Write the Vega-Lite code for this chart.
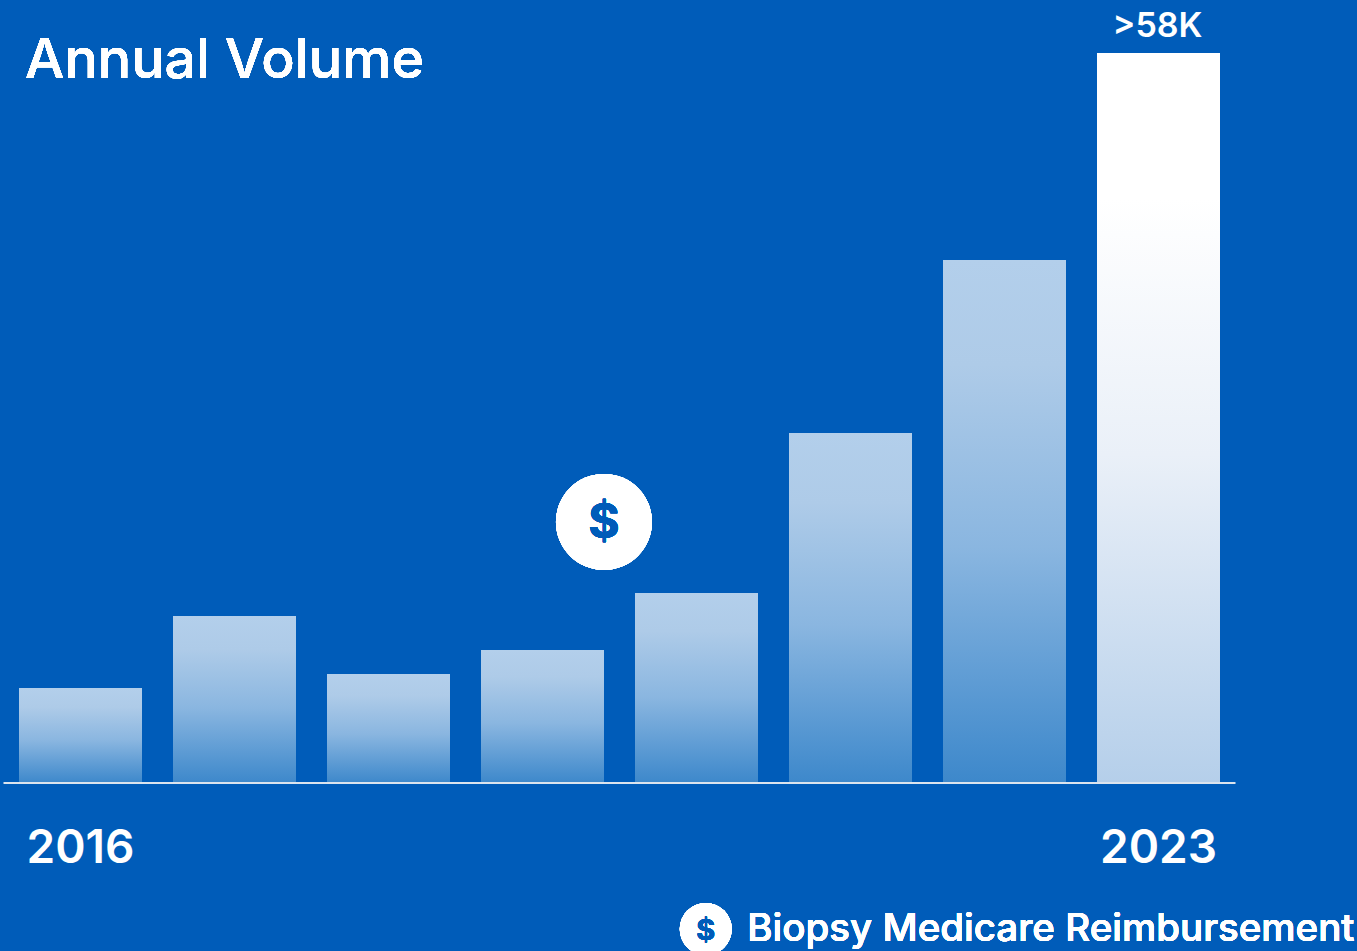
{
  "$schema": "https://vega.github.io/schema/vega-lite/v6.json",
  "width": 1357,
  "height": 951,
  "autosize": {"type": "none"},
  "padding": 0,
  "background": "#005cb9",
  "config": {"view": {"stroke": null}, "text": {"font": "Inter", "color": "white"}},
  "data": {
    "values": [
      {"year": 2016, "volume": 7.55},
      {"year": 2017, "volume": 13.27},
      {"year": 2018, "volume": 8.66},
      {"year": 2019, "volume": 10.57},
      {"year": 2020, "volume": 15.09},
      {"year": 2021, "volume": 27.81},
      {"year": 2022, "volume": 41.55},
      {"year": 2023, "volume": 58, "label": ">58K"}
    ]
  },
  "encoding": {
    "x": {"field": "year", "type": "quantitative", "axis": null,
      "scale": {"domain": [2015.47727, 2024.28896], "nice": false, "zero": false, "padding": 0}},
    "y": {"field": "volume", "type": "quantitative", "axis": null,
      "scale": {"domain": [-13.348, 62.21], "nice": false, "zero": false, "padding": 0}}
  },
  "layer": [
    {
      "transform": [{"filter": "datum.year < 2023"}],
      "mark": {"type": "bar", "size": 123, "clip": false,
        "fill": {"gradient": "linear", "x1": 0, "y1": 0, "x2": 0, "y2": 1,
          "stops": [
            {"offset": 0, "color": "#b3cfeb"},
            {"offset": 0.2, "color": "#aecbe8"},
            {"offset": 0.55, "color": "#8ab6e0"},
            {"offset": 1, "color": "#3d88cb"}
          ]}}
    },
    {
      "transform": [{"filter": "datum.year === 2023"}],
      "mark": {"type": "bar", "size": 123, "clip": false,
        "fill": {"gradient": "linear", "x1": 0, "y1": 0, "x2": 0, "y2": 1,
          "stops": [
            {"offset": 0, "color": "#ffffff"},
            {"offset": 0.2, "color": "#ffffff"},
            {"offset": 0.55, "color": "#eaf0f8"},
            {"offset": 1, "color": "#b5cfea"}
          ]}}
    },
    {
      "data": {"values": [{"from": 2015.5, "to": 2023.5, "base": 0}]},
      "mark": {"type": "rule", "color": "#dbe4ee", "strokeWidth": 2},
      "encoding": {
        "x": {"field": "from", "type": "quantitative", "axis": null,
          "scale": {"domain": [2015.47727, 2024.28896], "nice": false, "zero": false, "padding": 0}},
        "x2": {"field": "to"},
        "y": {"field": "base", "type": "quantitative", "axis": null,
          "scale": {"domain": [-13.348, 62.21], "nice": false, "zero": false, "padding": 0}}
      }
    },
    {
      "transform": [{"filter": "datum.year === 2016 || datum.year === 2023"}],
      "mark": {"type": "text", "fontSize": 46, "fontWeight": 600, "baseline": "middle", "align": "center"},
      "encoding": {
        "y": {"datum": -5.24, "axis": null,
          "scale": {"domain": [-13.348, 62.21], "nice": false, "zero": false, "padding": 0}},
        "text": {"field": "year", "type": "nominal"}
      }
    },
    {
      "transform": [{"filter": "datum.label != null"}],
      "mark": {"type": "text", "fontSize": 34, "fontWeight": 600, "baseline": "middle", "align": "center", "dx": -1, "dy": -26},
      "encoding": {"text": {"field": "label", "type": "nominal"}}
    },
    {
      "mark": {"type": "text", "fontSize": 55.5, "fontWeight": 500, "baseline": "middle", "align": "left", "text": "Annual Volume"},
      "encoding": {
        "x": {"datum": 2015.64, "axis": null,
          "scale": {"domain": [2015.47727, 2024.28896], "nice": false, "zero": false, "padding": 0}},
        "y": {"datum": 57.37, "axis": null,
          "scale": {"domain": [-13.348, 62.21], "nice": false, "zero": false, "padding": 0}}
      }
    },
    {
      "mark": {"type": "point", "filled": true, "shape": "circle", "size": 9216, "color": "white", "opacity": 1},
      "encoding": {
        "x": {"datum": 2019.399, "axis": null,
          "scale": {"domain": [2015.47727, 2024.28896], "nice": false, "zero": false, "padding": 0}},
        "y": {"datum": 20.74, "axis": null,
          "scale": {"domain": [-13.348, 62.21], "nice": false, "zero": false, "padding": 0}}
      }
    },
    {
      "mark": {"type": "text", "fontSize": 48, "fontWeight": 700, "baseline": "middle", "align": "center", "color": "#005cb9", "text": "$"},
      "encoding": {
        "x": {"datum": 2019.399, "axis": null,
          "scale": {"domain": [2015.47727, 2024.28896], "nice": false, "zero": false, "padding": 0}},
        "y": {"datum": 20.6, "axis": null,
          "scale": {"domain": [-13.348, 62.21], "nice": false, "zero": false, "padding": 0}}
      }
    },
    {
      "mark": {"type": "point", "filled": true, "shape": "circle", "size": 2704, "color": "white", "opacity": 1},
      "encoding": {
        "x": {"datum": 2020.06, "axis": null,
          "scale": {"domain": [2015.47727, 2024.28896], "nice": false, "zero": false, "padding": 0}},
        "y": {"datum": -11.6, "axis": null,
          "scale": {"domain": [-13.348, 62.21], "nice": false, "zero": false, "padding": 0}}
      }
    },
    {
      "mark": {"type": "text", "fontSize": 29, "fontWeight": 700, "baseline": "middle", "align": "center", "color": "#005cb9", "text": "$"},
      "encoding": {
        "x": {"datum": 2020.06, "axis": null,
          "scale": {"domain": [2015.47727, 2024.28896], "nice": false, "zero": false, "padding": 0}},
        "y": {"datum": -11.76, "axis": null,
          "scale": {"domain": [-13.348, 62.21], "nice": false, "zero": false, "padding": 0}}
      }
    },
    {
      "mark": {"type": "text", "fontSize": 38.5, "fontWeight": 500, "baseline": "middle", "align": "left", "text": "Biopsy Medicare Reimbursement"},
      "encoding": {
        "x": {"datum": 2020.33, "axis": null,
          "scale": {"domain": [2015.47727, 2024.28896], "nice": false, "zero": false, "padding": 0}},
        "y": {"datum": -11.59, "axis": null,
          "scale": {"domain": [-13.348, 62.21], "nice": false, "zero": false, "padding": 0}}
      }
    }
  ]
}
